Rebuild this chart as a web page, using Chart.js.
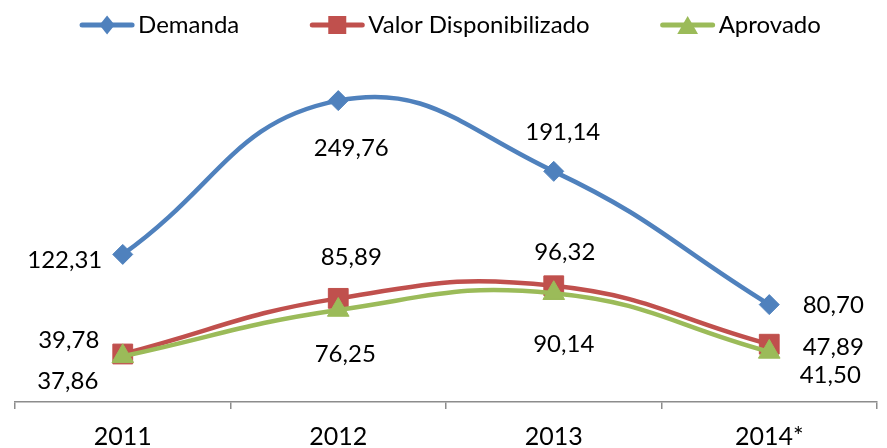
<!DOCTYPE html>
<html><head><meta charset="utf-8">
<script src="https://cdn.jsdelivr.net/npm/chart.js@4"></script>
<style>
html,body{margin:0;padding:0;overflow:hidden;background:#fff;width:887px;height:448px}
canvas{display:block}
</style>
</head><body>
<canvas id="c" width="892" height="448"></canvas>
<script>
// ---- data ----
const categories = ['2011', '2012', '2013', '2014*'];
const seriesNames = ['Demanda', 'Valor Disponibilizado', 'Aprovado'];
const demanda = [122.31, 249.76, 191.14, 80.70];
const valorDisponibilizado = [39.78, 85.89, 96.32, 47.89];
const aprovado = [37.86, 76.25, 90.14, 41.50];
const yMin = 0, yMax = 300;

const FONT = 'Lato, "Open Sans", sans-serif';
const FONT_SIZE = 24;
const fmt = v => v.toFixed(2).replace('.', ',');

function drawMarker(ctx, style, x, y, r, color) {
  ctx.fillStyle = color;
  ctx.beginPath();
  if (style === 'rectRot') {
    ctx.moveTo(x, y - r); ctx.lineTo(x + r * 0.8, y); ctx.lineTo(x, y + r); ctx.lineTo(x - r * 0.8, y);
  } else if (style === 'rect') {
    ctx.rect(x - r, y - r, 2 * r, 2 * r);
  } else {
    const h = r * Math.sin(Math.PI / 3);
    ctx.moveTo(x, y - r * 0.75); ctx.lineTo(x + h, y + r * 0.75); ctx.lineTo(x - h, y + r * 0.75);
  }
  ctx.closePath();
  ctx.fill();
}

const labelPlugin = {
  id: 'pointValueLabels',
  afterDatasetsDraw(chart) {
    const ctx = chart.ctx;
    ctx.save();
    ctx.font = FONT_SIZE + 'px ' + FONT;
    ctx.fillStyle = '#000';
    ctx.textAlign = 'center';
    ctx.textBaseline = 'alphabetic';
    const asc = ctx.measureText('0123456789').actualBoundingBoxAscent;
    chart.data.datasets.forEach((ds, i) => {
      const meta = chart.getDatasetMeta(i);
      meta.data.forEach((pt, j) => {
        const off = ds.labelOffsets[j];
        ctx.fillText(fmt(ds.data[j]), pt.x + off[0], pt.y + off[1] + asc / 2);
      });
    });
    ctx.restore();
  }
};

const legendPlugin = {
  id: 'lineLegend',
  afterDraw(chart) {
    const ctx = chart.ctx;
    ctx.save();
    ctx.font = FONT_SIZE + 'px ' + FONT;
    const lineLen = 56, gapText = 3, gapItem = 70, cy = 25;
    const items = chart.data.datasets.map(ds => ({ ds, w: ctx.measureText(ds.label).width }));
    const total = items.reduce((s, it) => s + lineLen + gapText + it.w, 0) + gapItem * (items.length - 1);
    let x = (chart.chartArea.left + chart.chartArea.right) / 2 + 4 - total / 2;
    items.forEach(it => {
      const c = it.ds.borderColor;
      ctx.strokeStyle = c; ctx.lineWidth = 5; ctx.lineCap = 'round';
      ctx.beginPath(); ctx.moveTo(x + 3, cy); ctx.lineTo(x + lineLen - 3, cy); ctx.stroke();
      drawMarker(ctx, it.ds.pointStyle, x + lineLen / 2, cy, it.ds.legendMarker, c);
      ctx.fillStyle = '#000'; ctx.textAlign = 'left'; ctx.textBaseline = 'alphabetic';
      ctx.fillText(it.ds.label, x + lineLen + gapText, 33);
      x += lineLen + gapText + it.w + gapItem;
    });
    ctx.restore();
  }
};

const axisColor = '#8c8c8c';

new Chart(document.getElementById('c'), {
  type: 'line',
  data: {
    labels: categories,
    datasets: [
      {
        label: seriesNames[0], data: demanda,
        borderColor: '#4F81BD', backgroundColor: '#4F81BD',
        pointStyle: 'rectRot', pointRadius: 10, legendMarker: 9.5, order: 2,
        labelOffsets: [[-58, 5], [13, 47], [9, -40], [64, 0]]
      },
      {
        label: seriesNames[1], data: valorDisponibilizado,
        borderColor: '#C0504D', backgroundColor: '#C0504D',
        pointStyle: 'rect', pointRadius: 14, legendMarker: 9, order: 1,
        labelOffsets: [[-54, -14], [13, -42], [11, -34], [64, 2]]
      },
      {
        label: seriesNames[2], data: aprovado,
        borderColor: '#9BBB59', backgroundColor: '#9BBB59',
        pointStyle: 'triangle', pointRadius: 12.5, legendMarker: 12, order: 0,
        labelOffsets: [[-55, 24], [7, 44], [10, 50], [61, 23]]
      }
    ]
  },
  options: {
    responsive: false,
    animation: false,
    devicePixelRatio: 1,
    layout: { padding: { top: 40, left: 13, right: 0, bottom: 0 } },
    elements: {
      line: { borderWidth: 4.5, tension: 0.45, fill: false, capBezierPoints: true },
      point: { borderWidth: 1, hoverRadius: 10 }
    },
    plugins: { legend: { display: false }, tooltip: { enabled: false } },
    scales: {
      x: {
        offset: true,
        grid: { offset: true, drawOnChartArea: false, drawTicks: true, tickLength: 7, color: axisColor, lineWidth: 1.5 },
        border: { display: true, color: axisColor, width: 1.5 },
        ticks: { color: '#000', font: { family: FONT, size: 25 }, padding: 13, maxRotation: 0, autoSkip: false },
        afterFit: s => { s.height = 46; }
      },
      y: { display: false, min: yMin, max: yMax }
    }
  },
  plugins: [labelPlugin, legendPlugin]
});
</script>
</body></html>
